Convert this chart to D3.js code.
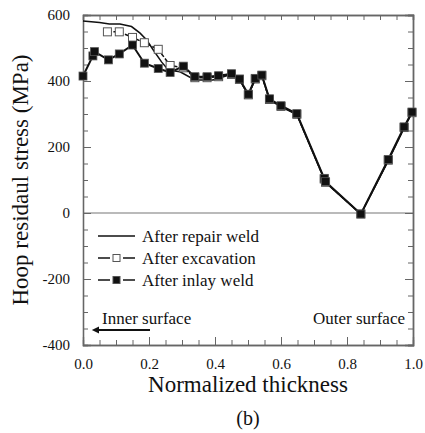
<!DOCTYPE html>
<html>
<head>
<meta charset="utf-8">
<script src="https://cdnjs.cloudflare.com/ajax/libs/d3/7.8.5/d3.min.js"></script>
<style>
  body { margin: 0; background: #fff; }
  svg text { font-family: "Times New Roman", "Liberation Serif", Tinos, "Noto Serif", "DejaVu Serif", serif; fill: #111; }
</style>
</head>
<body>
<div class="chart"></div>
<script>
// Data
const repairX = [0, 0.05, 0.08, 0.112, 0.147, 0.173, 0.193, 0.213, 0.238, 0.259, 0.294, 0.339, 0.394, 0.45, 0.474, 0.501, 0.522, 0.542, 0.565, 0.6, 0.648, 0.731, 0.735, 0.842, 0.925, 0.973, 0.997];
const repairY = [582, 577, 573, 573, 565, 545, 524, 494, 458, 433, 428, 403, 403, 420, 404, 357, 405, 415, 343, 322, 298, 102, 92, -4, 158, 257, 303];

const excavX = [0.074, 0.11, 0.15, 0.186, 0.228, 0.264, 0.304, 0.339, 0.376, 0.411, 0.45, 0.474, 0.501, 0.522, 0.542, 0.565, 0.6, 0.648, 0.731, 0.735, 0.842, 0.925, 0.973, 0.997];
const excavY = [549, 549, 532, 516, 496, 447, 440, 410, 410, 413, 420, 405, 358, 406, 416, 344, 323, 299, 103, 93, -3, 160, 259, 304];

const inlayX = [0.0, 0.03, 0.035, 0.077, 0.11, 0.15, 0.186, 0.228, 0.264, 0.304, 0.339, 0.376, 0.411, 0.45, 0.474, 0.501, 0.522, 0.542, 0.565, 0.6, 0.648, 0.731, 0.735, 0.842, 0.925, 0.973, 0.997];
const inlayY = [415, 476, 489, 464, 482, 509, 454, 438, 426, 445, 413, 413, 416, 422, 406, 360, 408, 418, 346, 325, 301, 105, 95, -3, 162, 261, 306];

const xTicks = [0.0, 0.2, 0.4, 0.6, 0.8, 1.0];
const yTicks = [-400, -200, 0, 200, 400, 600];
const legendLabels = ["After repair weld", "After excavation", "After inlay weld"];

const margin = { top: 15, right: 12, bottom: 88, left: 83 };
const width = 330;
const height = 330;

const svg = d3.select(".chart")
    .append("svg")
    .attr("width", 425)
    .attr("height", 433)
    .append("g")
    .attr("transform", `translate(${margin.left}, ${margin.top})`);

const xScale = d3.scaleLinear().domain([0, 1]).range([0, width]);
const yScale = d3.scaleLinear().domain([-400, 600]).range([height, 0]);

const axisColor = "#666";

// zero line
svg.append("line")
    .attr("x1", 0).attr("x2", width)
    .attr("y1", yScale(0)).attr("y2", yScale(0))
    .attr("stroke", "#777").attr("stroke-width", 1.2);

// axes with inward ticks, mirrored on top and right
const xMinor = d3.range(0, 1.0001, 0.05);
const yMinor = d3.range(-400, 600.1, 50);

function styleAxis(g) {
    g.attr("font-family", null).attr("font-size", null);
    g.select(".domain").attr("stroke", axisColor).attr("stroke-width", 1.3);
    g.selectAll(".tick line").attr("stroke", axisColor).attr("stroke-width", 1);
    g.selectAll(".tick text").attr("font-size", 15).attr("fill", "#111");
}

function minorAxis(axis, transform) {
    const g = svg.append("g").call(axis.tickSize(-5).tickFormat(""));
    if (transform) g.attr("transform", transform);
    g.selectAll(".tick text").remove();
    styleAxis(g);
}

minorAxis(d3.axisBottom(xScale).tickValues(xMinor), `translate(0, ${height})`);
minorAxis(d3.axisTop(xScale).tickValues(xMinor));
minorAxis(d3.axisLeft(yScale).tickValues(yMinor));
minorAxis(d3.axisRight(yScale).tickValues(yMinor), `translate(${width}, 0)`);
minorAxis(d3.axisTop(xScale).tickValues(xTicks).tickSizeInner(-8));
minorAxis(d3.axisRight(yScale).tickValues(yTicks), `translate(${width}, 0)`);

svg.append("g")
    .attr("transform", `translate(0, ${height})`)
    .call(d3.axisBottom(xScale).tickValues(xTicks).tickSize(-8).tickPadding(13).tickFormat(d3.format(".1f")))
    .call(styleAxis);

svg.append("g")
    .call(d3.axisLeft(yScale).tickValues(yTicks).tickSize(-8).tickPadding(13).tickFormat(d => String(d)))
    .call(styleAxis);

// right-side major ticks a bit longer
svg.append("g")
    .attr("transform", `translate(${width}, 0)`)
    .call(d3.axisRight(yScale).tickValues(yTicks).tickSize(-8).tickFormat(""))
    .call(styleAxis);

// Axis labels
svg.append("text")
    .attr("x", width / 2)
    .attr("y", height + 47)
    .attr("text-anchor", "middle")
    .attr("font-size", 23)
    .text("Normalized thickness");

svg.append("text")
    .attr("transform", "rotate(-90)")
    .attr("x", -height / 2)
    .attr("y", -55)
    .attr("text-anchor", "middle")
    .attr("font-size", 23)
    .text("Hoop residaul stress (MPa)");

svg.append("text")
    .attr("x", width / 2)
    .attr("y", height + 80)
    .attr("text-anchor", "middle")
    .attr("font-size", 20)
    .text("(b)");

// Lines
const line = d3.line()
    .x(d => xScale(d[0]))
    .y(d => yScale(d[1]));

const repair = repairX.map((x, i) => [x, repairY[i]]);
const excav = excavX.map((x, i) => [x, excavY[i]]);
const inlay = inlayX.map((x, i) => [x, inlayY[i]]);

svg.append("path")
    .attr("d", line(repair))
    .attr("fill", "none")
    .attr("stroke", "#111")
    .attr("stroke-width", 1.5);

svg.append("path")
    .attr("d", line(excav))
    .attr("fill", "none")
    .attr("stroke", "#111")
    .attr("stroke-width", 1.5)
    .attr("stroke-dasharray", "4,2");

svg.selectAll(".excav")
    .data(excav)
    .enter()
    .append("rect")
    .attr("class", "excav")
    .attr("x", d => xScale(d[0]) - 4)
    .attr("y", d => yScale(d[1]) - 4)
    .attr("width", 8)
    .attr("height", 8)
    .attr("fill", "#fff")
    .attr("stroke", "#555")
    .attr("stroke-width", 1);

svg.append("path")
    .attr("d", line(inlay))
    .attr("fill", "none")
    .attr("stroke", "#111")
    .attr("stroke-width", 2);

svg.selectAll(".inlay")
    .data(inlay)
    .enter()
    .append("rect")
    .attr("class", "inlay")
    .attr("x", d => xScale(d[0]) - 4)
    .attr("y", d => yScale(d[1]) - 4)
    .attr("width", 8)
    .attr("height", 8)
    .attr("fill", "#111")
    .attr("stroke", "#555")
    .attr("stroke-width", 0.8);

// Legend
const legend = svg.append("g").attr("transform", "translate(15, 221)");
legendLabels.forEach((label, i) => {
    const g = legend.append("g").attr("transform", `translate(0, ${i * 22})`);
    if (i === 0) {
        g.append("line").attr("x1", 0).attr("x2", 37).attr("stroke", "#111").attr("stroke-width", 1.5);
    } else {
        g.append("line").attr("x1", 0).attr("x2", 12).attr("stroke", "#111").attr("stroke-width", 1.5);
        g.append("line").attr("x1", 25).attr("x2", 37).attr("stroke", "#111").attr("stroke-width", 1.5);
        g.append("rect")
            .attr("x", 15).attr("y", -3.5).attr("width", 7).attr("height", 7)
            .attr("fill", i === 1 ? "#fff" : "#111")
            .attr("stroke", "#555").attr("stroke-width", 1);
    }
    g.append("text")
        .attr("x", 44)
        .attr("y", 6)
        .attr("font-size", 17)
        .text(label);
});

// Surface annotations
svg.append("text")
    .attr("x", 19)
    .attr("y", 309)
    .attr("font-size", 17)
    .text("Inner surface");

svg.append("defs").append("marker")
    .attr("id", "arrow")
    .attr("viewBox", "0 0 10 10")
    .attr("refX", 0).attr("refY", 5)
    .attr("markerWidth", 5).attr("markerHeight", 4)
    .attr("orient", "auto-start-reverse")
    .append("path")
    .attr("d", "M0,0 L10,5 L0,10 Z")
    .attr("fill", "#111");

svg.append("line")
    .attr("x1", 67).attr("x2", 16)
    .attr("y1", 315).attr("y2", 315)
    .attr("stroke", "#111")
    .attr("stroke-width", 1.8)
    .attr("marker-end", "url(#arrow)");

svg.append("text")
    .attr("x", width - 8)
    .attr("y", 309)
    .attr("text-anchor", "end")
    .attr("font-size", 17)
    .text("Outer surface");
</script>
</body>
</html>
